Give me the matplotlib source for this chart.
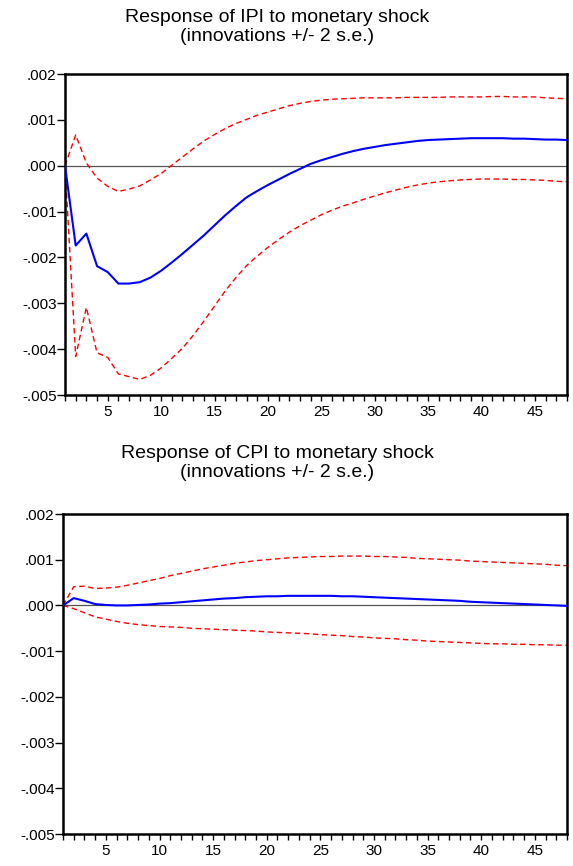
import matplotlib
matplotlib.use("Agg")
import matplotlib.pyplot as plt
import numpy as np
from matplotlib.ticker import FixedLocator, FuncFormatter, MultipleLocator

plt.rcParams['font.family'] = ['Liberation Sans', 'DejaVu Sans']

periods = list(range(1, 49))

ipi_resp = [0, -0.00174, -0.00148, -0.00219, -0.00232, -0.00257, -0.00257, -0.00254, -0.00244, -0.00229,
            -0.00211, -0.00192, -0.00172, -0.00152, -0.00130, -0.00108, -0.00088, -0.00069, -0.00055, -0.00042,
            -0.00030, -0.00018, -0.00007, 0.00004, 0.00012, 0.00019, 0.00026, 0.00032, 0.00037, 0.00041,
            0.00045, 0.00048, 0.00051, 0.00054, 0.00056, 0.00057, 0.00058, 0.00059, 0.00060, 0.00060,
            0.00060, 0.00060, 0.00059, 0.00059, 0.00058, 0.00057, 0.00057, 0.00056]
ipi_upper = [0, 0.00067, 0.00006, -0.00027, -0.00045, -0.00056, -0.00051, -0.00044, -0.00031, -0.00017,
             0.00001, 0.00019, 0.00037, 0.00054, 0.00068, 0.00081, 0.00092, 0.00101, 0.00110, 0.00117,
             0.00124, 0.00131, 0.00136, 0.00140, 0.00143, 0.00145, 0.00146, 0.00147, 0.00148, 0.00148,
             0.00148, 0.00148, 0.00149, 0.00149, 0.00149, 0.00149, 0.00150, 0.00150, 0.00150, 0.00150,
             0.00151, 0.00151, 0.00150, 0.00150, 0.00150, 0.00148, 0.00147, 0.00146]
ipi_lower = [0, -0.00416, -0.00309, -0.00408, -0.00418, -0.00454, -0.00460, -0.00466, -0.00457, -0.00441,
             -0.00420, -0.00398, -0.00370, -0.00339, -0.00306, -0.00273, -0.00244, -0.00218, -0.00197, -0.00178,
             -0.00161, -0.00145, -0.00131, -0.00119, -0.00107, -0.00097, -0.00088, -0.00081, -0.00073, -0.00066,
             -0.00059, -0.00053, -0.00047, -0.00042, -0.00038, -0.00035, -0.00033, -0.00031, -0.00030, -0.00029,
             -0.00029, -0.00029, -0.00030, -0.00030, -0.00031, -0.00032, -0.00034, -0.00035]

cpi_resp = [0, 0.00016, 0.00010, 0.00003, 0.00001, 0.0, 0.0, 0.00001, 0.00002, 0.00004,
            0.00005, 0.00007, 0.00009, 0.00011, 0.00013, 0.00015, 0.00016, 0.00018, 0.00019, 0.00020,
            0.00020, 0.00021, 0.00021, 0.00021, 0.00021, 0.00021, 0.00020, 0.00020, 0.00019, 0.00018,
            0.00017, 0.00016, 0.00015, 0.00014, 0.00013, 0.00012, 0.00011, 0.00010, 0.00008, 0.00007,
            0.00006, 0.00005, 0.00004, 0.00003, 0.00002, 0.00001, 0.0, -0.00001]
cpi_upper = [0, 0.00041, 0.00042, 0.00037, 0.00038, 0.00040, 0.00044, 0.00049, 0.00054, 0.00059,
             0.00065, 0.00070, 0.00075, 0.00080, 0.00084, 0.00088, 0.00092, 0.00095, 0.00098, 0.00100,
             0.00102, 0.00104, 0.00105, 0.00106, 0.00107, 0.00107, 0.00108, 0.00108, 0.00108, 0.00107,
             0.00107, 0.00106, 0.00105, 0.00103, 0.00102, 0.00101, 0.00100, 0.00099, 0.00097, 0.00096,
             0.00095, 0.00094, 0.00093, 0.00092, 0.00091, 0.00090, 0.00088, 0.00087]
cpi_lower = [0, -0.00007, -0.00016, -0.00025, -0.00030, -0.00035, -0.00039, -0.00042, -0.00044, -0.00046,
             -0.00047, -0.00048, -0.00050, -0.00051, -0.00052, -0.00053, -0.00054, -0.00055, -0.00056, -0.00058,
             -0.00059, -0.00060, -0.00061, -0.00062, -0.00064, -0.00065, -0.00066, -0.00068, -0.00069, -0.00071,
             -0.00072, -0.00073, -0.00075, -0.00076, -0.00078, -0.00079, -0.00080, -0.00081, -0.00082, -0.00083,
             -0.00084, -0.00084, -0.00085, -0.00085, -0.00086, -0.00086, -0.00087, -0.00087]

y_ticks = [-0.005, -0.004, -0.003, -0.002, -0.001, 0.0, 0.001, 0.002]
x_labels = [5, 10, 15, 20, 25, 30, 35, 40, 45]

titles = ["Response of IPI to monetary shock\n(innovations +/- 2 s.e.)",
          "Response of CPI to monetary shock\n(innovations +/- 2 s.e.)"]


def yfmt(v, pos):
    s = "%.3f" % v
    if s.startswith("-0"):
        s = "-" + s[2:]
    elif s.startswith("0"):
        s = s[1:]
    if s == "-.000":
        s = ".000"
    return s


W, H = 573, 866
fig = plt.figure(figsize=(W / 100, H / 100), dpi=100)

boxes = [(65, 74, 567, 395), (63, 514, 567, 834)]
data = [(ipi_resp, ipi_upper, ipi_lower), (cpi_resp, cpi_upper, cpi_lower)]
title_y = [27, 463]

for (l, t, r, b), (resp, up, lo), title, ty in zip(boxes, data, titles, title_y):
    ax = fig.add_axes([l / W, 1 - b / H, (r - l) / W, (b - t) / H])
    ax.axhline(0, color='#555555', lw=0.9, zorder=1)
    ax.plot(periods, up, color='#ff0000', lw=1.0, ls=(0, (4, 2.5)), zorder=2)
    ax.plot(periods, lo, color='#ff0000', lw=1.0, ls=(0, (4, 2.5)), zorder=2)
    ax.plot(periods, resp, color='#0000ff', lw=1.5, zorder=3)
    ax.set_xlim(1, 48)
    ax.set_ylim(-0.005, 0.002)
    ax.yaxis.set_major_locator(FixedLocator(y_ticks))
    ax.yaxis.set_major_formatter(FuncFormatter(yfmt))
    ax.xaxis.set_major_locator(FixedLocator(x_labels))
    ax.xaxis.set_minor_locator(MultipleLocator(1))
    ax.tick_params(axis='y', direction='out', length=6, width=1.0, labelsize=11, pad=0)
    ax.tick_params(axis='x', which='both', direction='out', length=4, width=1.0, labelsize=11, pad=3)
    for sp in ax.spines.values():
        sp.set_linewidth(1.8)
    fig.text(277 / W, 1 - ty / H, title, ha='center', va='center',
             fontsize=14, linespacing=1.2)

fig.savefig("out.png", dpi=100)
